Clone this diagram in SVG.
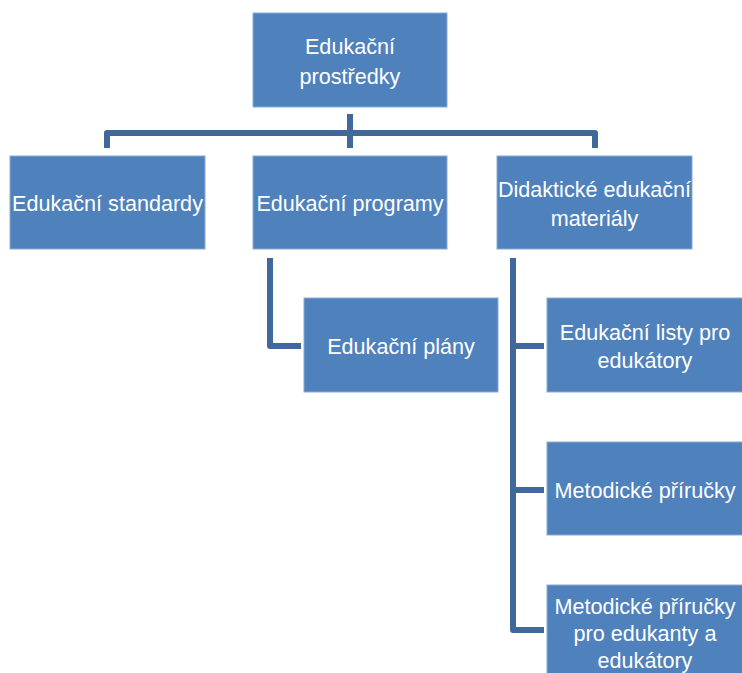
<svg xmlns="http://www.w3.org/2000/svg" width="742" height="673" viewBox="0 0 742 673">
<style>
.box{fill:#4F81BD;stroke:#8AA9D3;stroke-width:1}
.t{font-family:"Liberation Sans",Arial,sans-serif;font-size:21.6px;fill:#FFFFFF;text-anchor:middle}
.c{fill:none;stroke:#41689B;stroke-width:6;stroke-linejoin:round;stroke-linecap:butt}
</style>
<rect width="742" height="673" fill="#FFFFFF"/>
<g id="connectors">
<path class="c" d="M350,114 V148"/>
<path class="c" d="M107,148 V133 H595 V148"/>
<path class="c" d="M270,258 V346 H301"/>
<path class="c" d="M513,258 V630 H544"/>
<path class="c" d="M513,346 H544"/>
<path class="c" d="M513,490 H544"/>
</g>
<g id="n-root"><rect class="box" x="253" y="13" width="194" height="94"/><text class="t" x="350" y="54">Edukační</text><text class="t" x="350" y="84">prostředky</text></g>
<g id="n-standardy"><rect class="box" x="10" y="156" width="195" height="93"/><text class="t" x="107.5" y="211">Edukační standardy</text></g>
<g id="n-programy"><rect class="box" x="253" y="156" width="194" height="93"/><text class="t" x="350" y="211">Edukační programy</text></g>
<g id="n-materialy"><rect class="box" x="497" y="156" width="195" height="93"/><text class="t" x="594.5" y="197">Didaktické edukační</text><text class="t" x="594.5" y="226">materiály</text></g>
<g id="n-plany"><rect class="box" x="304" y="298" width="194" height="94"/><text class="t" x="401" y="354">Edukační plány</text></g>
<g id="n-listy"><rect class="box" x="547" y="298" width="196" height="94"/><text class="t" x="645" y="340">Edukační listy pro</text><text class="t" x="645" y="368">edukátory</text></g>
<g id="n-prirucky"><rect class="box" x="547" y="442" width="196" height="93"/><text class="t" x="645" y="498">Metodické příručky</text></g>
<g id="n-prirucky2"><rect class="box" x="547" y="585" width="196" height="93"/><text class="t" x="645" y="614">Metodické příručky</text><text class="t" x="645" y="641">pro edukanty a</text><text class="t" x="645" y="668">edukátory</text></g>
</svg>
